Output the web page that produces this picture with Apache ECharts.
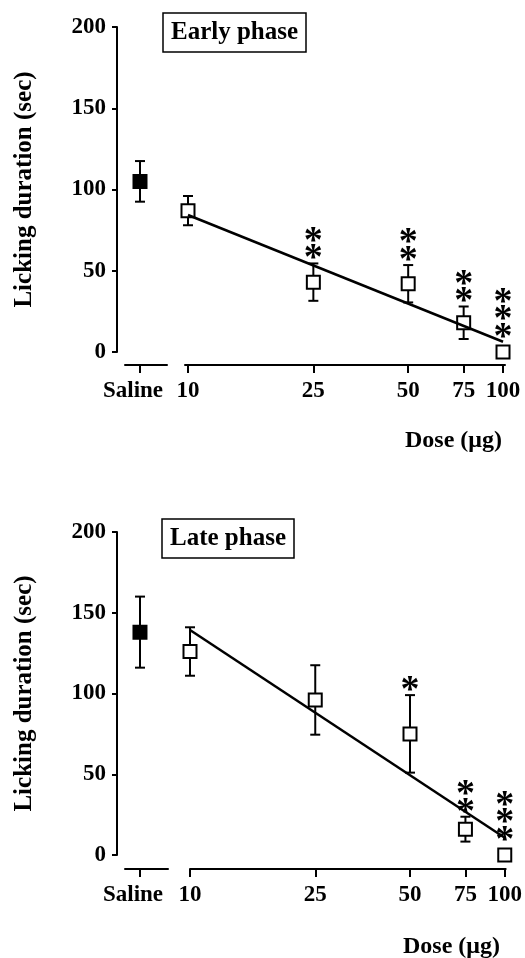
<!DOCTYPE html>
<html>
<head>
<meta charset="utf-8">
<script src="https://cdn.jsdelivr.net/npm/echarts@6/dist/echarts.min.js"></script>
<style>
  html, body { margin: 0; padding: 0; background: #fff; }
  #main { width: 525px; height: 958px; }
</style>
</head>
<body>
<div id="main"></div>
<script>
// doses on the log axis
const doses = [10, 25, 50, 75, 100];
const yTicks = [0, 50, 100, 150, 200];

// early phase (mean, error, significance stars)
const earlyMean = [87, 43, 42, 18, 0];
const earlyErr = [9, 11.5, 11.5, 10, 0];
const earlyStars = [0, 2, 2, 2, 3];
const earlySaline = [105, 12.5];
const earlyFit = [84.3, 6.3]; // regression at 10 and 100 ug

// late phase
const lateMean = [126, 96, 75, 16, 0];
const lateErr = [15, 21.5, 24, 7.7, 0];
const lateStars = [0, 0, 1, 2, 3];
const lateSaline = [138, 22];
const lateFit = [139.3, 10.7];

const FONT = '"Liberation Serif", "Times New Roman", serif';
const logDose = doses.map(d => Math.log10(d));

function errBars(params, api) {
  const x = api.value(0), m = api.value(1), s = api.value(2);
  if (!s) return null;
  const t = api.coord([x, m + s]);
  const b = api.coord([x, m - s]);
  const w = 5, st = { stroke: '#000', lineWidth: 2 };
  return {
    type: 'group',
    children: [
      { type: 'line', shape: { x1: t[0], y1: t[1], x2: b[0], y2: b[1] }, style: st },
      { type: 'line', shape: { x1: t[0] - w, y1: t[1], x2: t[0] + w, y2: t[1] }, style: st },
      { type: 'line', shape: { x1: b[0] - w, y1: b[1], x2: b[0] + w, y2: b[1] }, style: st }
    ]
  };
}

function starMarks(params, api) {
  const x = api.value(0), m = api.value(1), s = api.value(2), n = api.value(3);
  if (!n) return null;
  const t = api.coord([x, m + s]);
  const c = api.coord([x, m]);
  const base = Math.min(t[1], c[1] - 10) - 14;
  const kids = [];
  for (let i = 0; i < n; i++) {
    kids.push({
      type: 'text',
      style: {
        text: '*', x: t[0], y: base - 17.5 * i + 10,
        align: 'center', verticalAlign: 'middle',
        font: 'bold 38px ' + FONT, fill: '#000'
      }
    });
  }
  return { type: 'group', children: kids };
}

function panel(idx, cfg) {
  const g = idx * 2;
  const grids = [
    { left: 125, width: cfg.salineW, top: cfg.top, height: cfg.h },
    { left: cfg.doseLeft, width: cfg.doseW, top: cfg.top, height: cfg.h }
  ];
  const axisLine = { show: true, onZero: false, lineStyle: { color: '#000', width: 2 } };
  const xAxes = [
    {
      gridIndex: g, type: 'value', min: -1, max: cfg.salineMax, offset: cfg.xOff,
      axisLine: axisLine, splitLine: { show: false },
      axisTick: { show: true, length: 8, lineStyle: { width: 2, color: '#000' }, customValues: [0] },
      axisLabel: { customValues: [0], formatter: () => 'Saline', margin: 15, padding: [0, 14, 0, 0],
        color: '#000', fontFamily: FONT, fontWeight: 'bold', fontSize: 23 }
    },
    {
      gridIndex: g + 1, type: 'value', min: cfg.logMin, max: cfg.logMax, offset: cfg.xOff,
      axisLine: axisLine, splitLine: { show: false },
      axisTick: { show: true, length: 8, lineStyle: { width: 2, color: '#000' }, customValues: logDose },
      axisLabel: { customValues: logDose, formatter: v => String(Math.round(Math.pow(10, v))), margin: 15,
        color: '#000', fontFamily: FONT, fontWeight: 'bold', fontSize: 23 }
    }
  ];
  const yAxes = [
    {
      gridIndex: g, type: 'value', min: 0, max: 200, interval: 50, offset: 8,
      name: 'Licking duration (sec)', nameLocation: 'middle', nameGap: 80,
      nameTextStyle: { color: '#000', fontFamily: FONT, fontWeight: 'bold', fontSize: 25 },
      axisLine: axisLine, splitLine: { show: false },
      axisTick: { show: true, length: 5, lineStyle: { width: 2, color: '#000' }, customValues: yTicks },
      axisLabel: { customValues: yTicks, margin: 11, color: '#000', fontFamily: FONT, fontWeight: 'bold', fontSize: 23 }
    },
    { gridIndex: g + 1, type: 'value', min: 0, max: 200, show: false }
  ];
  const pts = logDose.map((x, i) => [x, cfg.mean[i], cfg.err[i], cfg.stars[i]]);
  const series = [
    { type: 'custom', xAxisIndex: g, yAxisIndex: g, renderItem: errBars, data: [[0, cfg.saline[0], cfg.saline[1]]], z: 2 },
    { type: 'scatter', xAxisIndex: g, yAxisIndex: g, symbol: 'rect', symbolSize: 13,
      itemStyle: { color: '#000', borderColor: '#000', borderWidth: 2, opacity: 1 },
      data: [[0, cfg.saline[0]]], z: 3, silent: true },
    { type: 'custom', xAxisIndex: g + 1, yAxisIndex: g + 1, renderItem: errBars, data: pts, z: 2 },
    { type: 'scatter', xAxisIndex: g + 1, yAxisIndex: g + 1, symbol: 'rect', symbolSize: 13,
      itemStyle: { color: '#fff', borderColor: '#000', borderWidth: 2, opacity: 1 },
      data: pts.map(p => [p[0], p[1]]), z: 3, silent: true },
    { type: 'line', xAxisIndex: g + 1, yAxisIndex: g + 1, showSymbol: false, symbol: 'none',
      lineStyle: { color: '#000', width: 2.5 },
      data: [[logDose[0], cfg.fit[0]], [logDose[logDose.length - 1], cfg.fit[1]]], z: 4 },
    { type: 'custom', xAxisIndex: g + 1, yAxisIndex: g + 1, renderItem: starMarks, data: pts, z: 5 }
  ];
  return { grids, xAxes, yAxes, series };
}

const p1 = panel(0, {
  top: 27, h: 325, salineW: 42, salineMax: 1.8, doseLeft: 185, doseW: 320,
  logMin: 0.9905, logMax: 2.0063, xOff: 13,
  mean: earlyMean, err: earlyErr, stars: earlyStars, saline: earlySaline, fit: earlyFit
});
const p2 = panel(1, {
  top: 532, h: 323, salineW: 43, salineMax: 1.87, doseLeft: 190, doseW: 317,
  logMin: 1, logMax: 2.003, xOff: 14,
  mean: lateMean, err: lateErr, stars: lateStars, saline: lateSaline, fit: lateFit
});

const titleStyle = { color: '#000', fontFamily: FONT, fontWeight: 'bold', fontSize: 25, lineHeight: 27 };
const chart = echarts.init(document.getElementById('main'), null, { renderer: 'canvas' });
chart.setOption({
  backgroundColor: '#fff',
  animation: false,
  title: [
    { text: 'Early phase', left: 163, top: 13, padding: [6, 8, 6, 8], borderColor: '#000', borderWidth: 1.5, textStyle: titleStyle },
    { text: 'Late phase', left: 162, top: 519, padding: [6, 8, 6, 8], borderColor: '#000', borderWidth: 1.5, textStyle: titleStyle }
  ],
  graphic: [
    { type: 'text', left: 405, top: 429, style: { text: 'Dose (μg)', font: 'bold 24px ' + FONT, fill: '#000' } },
    { type: 'text', left: 403, top: 935, style: { text: 'Dose (μg)', font: 'bold 24px ' + FONT, fill: '#000' } }
  ],
  grid: p1.grids.concat(p2.grids),
  xAxis: p1.xAxes.concat(p2.xAxes),
  yAxis: p1.yAxes.concat(p2.yAxes),
  series: p1.series.concat(p2.series)
});
</script>
</body>
</html>
